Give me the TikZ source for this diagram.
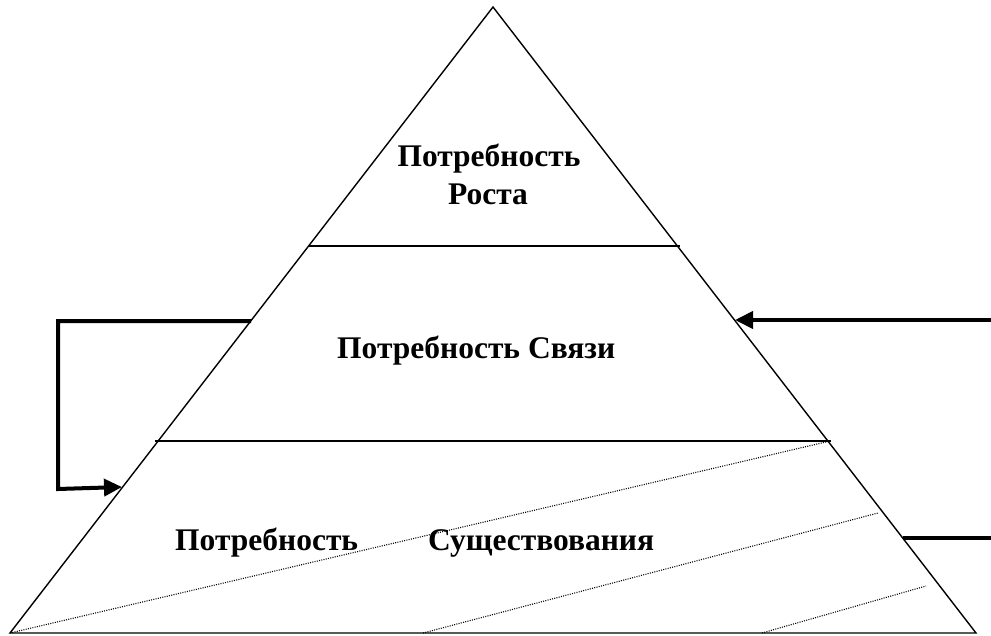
\documentclass[tikz,border=0pt]{standalone}
\usepackage{fontspec}
\setmainfont{Liberation Serif}
\usetikzlibrary{arrows.meta}
\begin{document}
\begin{tikzpicture}[x=1pt,y=-1pt,
  outline/.style={line width=1.4pt,line join=miter},
  band/.style={line width=1.4pt},
  hatch/.style={line width=1.1pt,dash pattern=on 1pt off 1.3pt},
  thick arrow/.style={line width=4pt,-{Triangle[length=18pt,width=17pt]}},
  thick line/.style={line width=4pt},
  lbl/.style={font=\fontsize{31.5}{38}\selectfont\bfseries,inner sep=0pt}]
\useasboundingbox (0,0) rectangle (991,635);
% pyramid
\coordinate (A) at (493,7);
\coordinate (BL) at (10,633);
\coordinate (BR) at (976,633);
\draw[outline] (A) -- (BL) -- (BR) -- cycle;
% bands
\coordinate (b1l) at (309,246);
\coordinate (b1r) at (680,246);
\coordinate (b2l) at (155,441);
\coordinate (b2r) at (831,441);
\draw[band] (b1l) -- (b1r);
\draw[band] (b2l) -- (b2r);
% hatch lines
\coordinate (h1a) at (10,633);  \coordinate (h1b) at (830,441);
\coordinate (h2a) at (423,633); \coordinate (h2b) at (878,513);
\coordinate (h3a) at (762,633); \coordinate (h3b) at (926,586);
\draw[hatch] (h1a) -- (h1b);
\draw[hatch] (h2a) -- (h2b);
\draw[hatch] (h3a) -- (h3b);
% labels
\node[lbl,anchor=base] (grow1) at (489,166) {Потребность};
\node[lbl,anchor=base] (grow2) at (488,204) {Роста};
\node[lbl,anchor=base west] (rel) at (337,358) {Потребность Связи};
\node[lbl,anchor=base west] (ex1) at (175,550) {Потребность};
\node[lbl,anchor=base west] (ex2) at (428,550) {Существования};
% left feedback arrow
\coordinate (ls) at (251,321);
\coordinate (lc1) at (58,321);
\coordinate (lc2) at (58,489);
\coordinate (lt) at (122,487);
\draw[thick arrow,line join=miter] (ls) -- (lc1) -- (lc2) -- (lt);
% right arrow
\coordinate (rs) at (991,320);
\coordinate (rt) at (735,320);
\draw[thick arrow] (rs) -- (rt);
% right lower line
\coordinate (r2s) at (991,538);
\coordinate (r2e) at (903,538);
\draw[thick line] (r2s) -- (r2e);
\end{tikzpicture}
\end{document}
